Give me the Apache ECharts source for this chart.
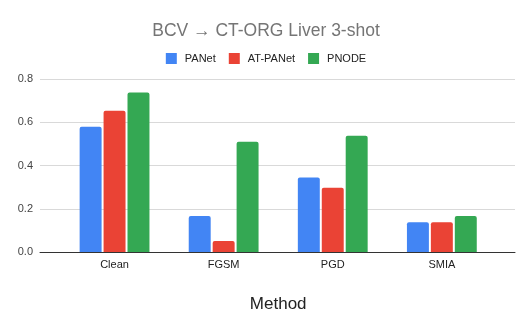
<!DOCTYPE html>
<html><head><meta charset="utf-8">
<script src="https://cdn.jsdelivr.net/npm/echarts@6/dist/echarts.min.js"></script>
<style>html,body{margin:0;padding:0;background:#fff}#c{width:532px;height:329px}</style>
</head><body><div id="c"></div>
<script>
const categories = ['Clean', 'FGSM', 'PGD', 'SMIA'];
const panet = [0.579, 0.166, 0.345, 0.137];
const atPanet = [0.653, 0.051, 0.297, 0.137];
const pnode = [0.738, 0.510, 0.538, 0.166];
const yTicks = [0, 0.2, 0.4, 0.6, 0.8];

const chart = echarts.init(document.getElementById('c'), null, {renderer: 'canvas'});
const font = '"Liberation Sans", sans-serif';
const barStyle = c => ({color: c, borderRadius: [2, 2, 0, 0]});
chart.setOption({
  animation: false,
  textStyle: {fontFamily: font},
  title: {
    text: 'BCV → CT-ORG Liver 3-shot',
    left: 'center', top: 17,
    textStyle: {fontFamily: font, fontSize: 17.5, fontWeight: 'normal', color: '#757575'}
  },
  legend: {
    top: 48, left: 'center',
    itemWidth: 11, itemHeight: 11, itemGap: 13,
    icon: 'rect',
    textStyle: {fontFamily: font, fontSize: 11, color: '#222', padding: [0, 0, 0, 3]},
    data: ['PANet', 'AT-PANet', 'PNODE']
  },
  grid: [
    {left: 40, right: 17, top: 79, bottom: 77},
    {left: 60, right: 35.6, top: 79, bottom: 77}
  ],
  xAxis: [
    {gridIndex: 0, type: 'value', min: 0, max: 1,
     axisLine: {show: true, onZero: false, lineStyle: {color: '#333', width: 1}},
     axisTick: {show: false}, axisLabel: {show: false}, splitLine: {show: false}},
    {gridIndex: 1, type: 'category', data: categories,
     axisLine: {show: false}, axisTick: {show: false},
     axisLabel: {fontFamily: font, fontSize: 11, color: '#222', margin: 7},
     name: 'Method', nameLocation: 'middle', nameGap: 44,
     nameTextStyle: {fontFamily: font, fontSize: 17, color: '#222'}}
  ],
  yAxis: [
    {gridIndex: 0, type: 'value', min: yTicks[0], max: yTicks[yTicks.length - 1], interval: 0.2,
     axisLine: {show: false}, axisTick: {show: false},
     axisLabel: {fontFamily: font, fontSize: 11, color: '#444', margin: 7,
                 formatter: v => v.toFixed(1)},
     splitLine: {lineStyle: {color: '#d9d9d9', width: 1}}},
    {gridIndex: 1, type: 'value', min: yTicks[0], max: yTicks[yTicks.length - 1], interval: 0.2,
     axisLine: {show: false}, axisTick: {show: false}, axisLabel: {show: false},
     splitLine: {show: false}}
  ],
  series: [
    {name: 'PANet', type: 'bar', xAxisIndex: 1, yAxisIndex: 1, data: panet,
     itemStyle: barStyle('#4285F4'), barGap: '9%', barCategoryGap: '36%'},
    {name: 'AT-PANet', type: 'bar', xAxisIndex: 1, yAxisIndex: 1, data: atPanet,
     itemStyle: barStyle('#EA4335')},
    {name: 'PNODE', type: 'bar', xAxisIndex: 1, yAxisIndex: 1, data: pnode,
     itemStyle: barStyle('#34A853')}
  ]
});
</script></body></html>
